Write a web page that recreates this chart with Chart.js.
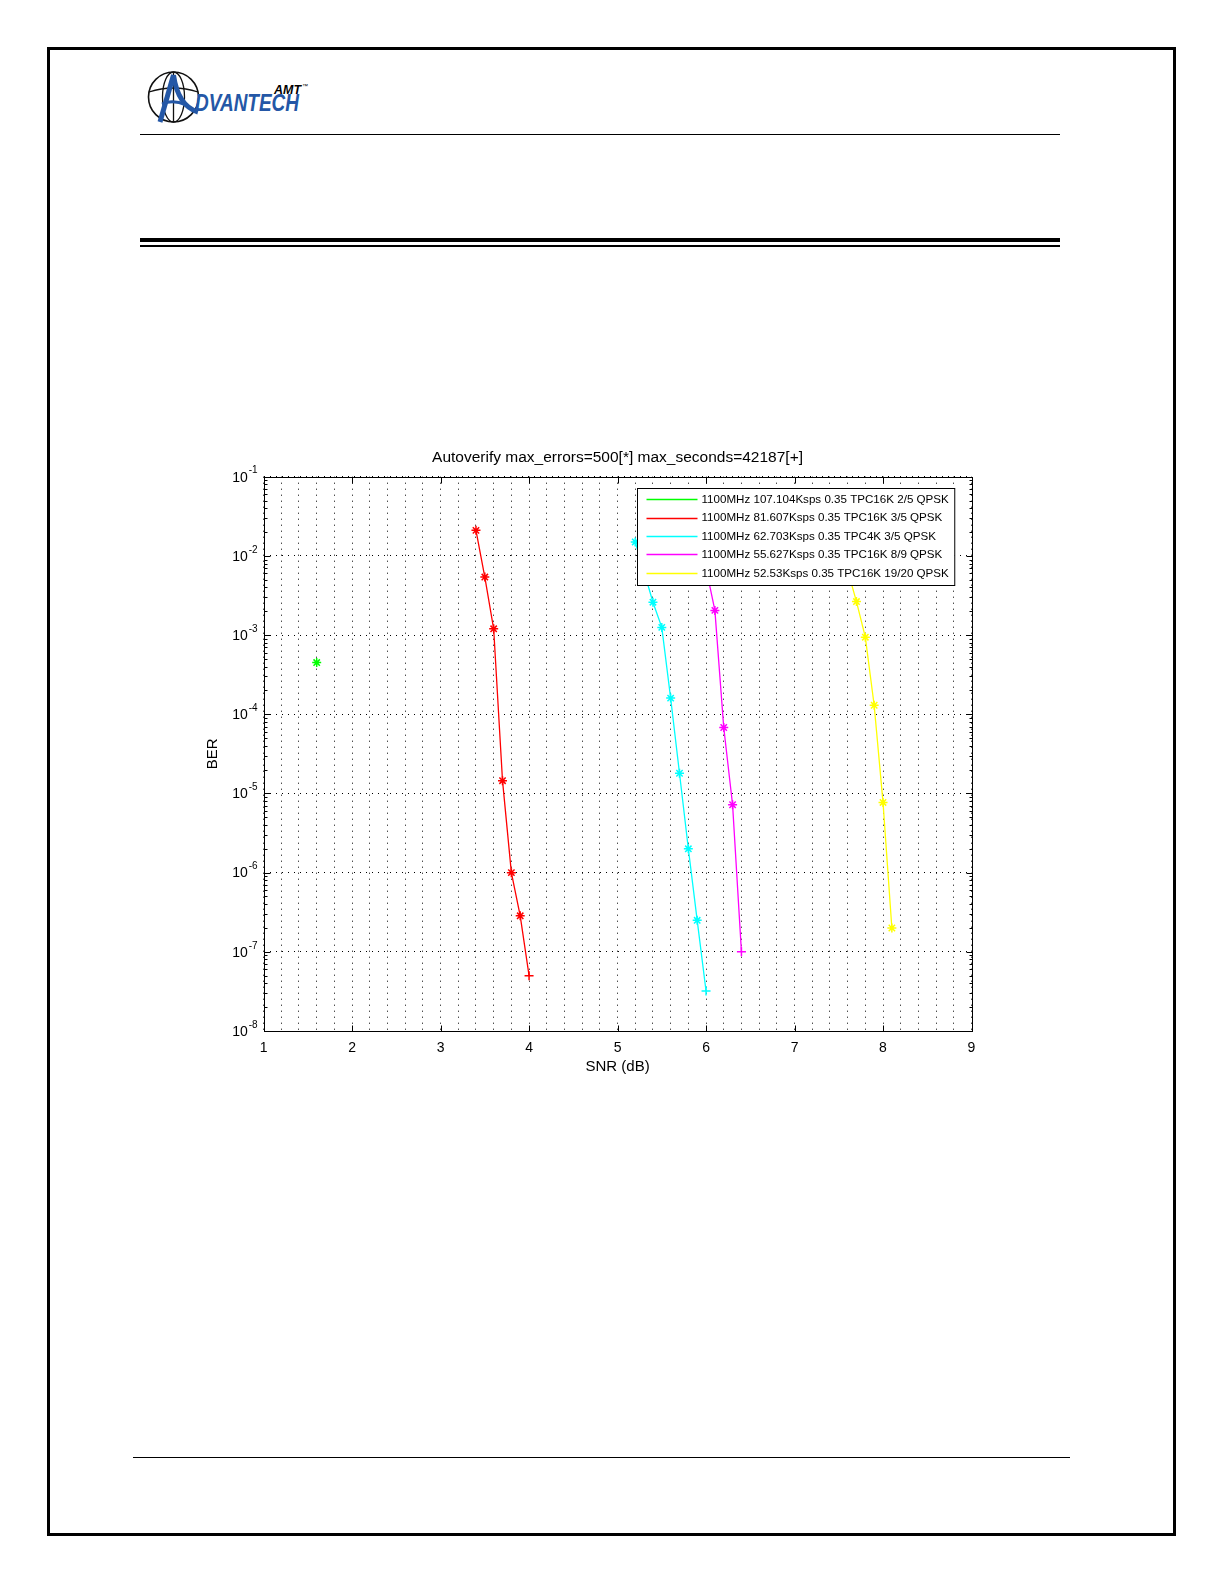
<!DOCTYPE html>
<html>
<head>
<meta charset="utf-8">
<script src="https://cdn.jsdelivr.net/npm/chart.js@4.4.1/dist/chart.umd.min.js"></script>
<style>
  body { margin: 0; background: #fff; }
  #page { position: relative; width: 1224px; height: 1584px; overflow: hidden; font-family: "Liberation Sans", Arial, sans-serif; }
  .frame { position: absolute; left: 47px; top: 47px; width: 1123px; height: 1483px; border: 3px solid #000; }
  .rule { position: absolute; background: #000; }
  #logo { position: absolute; left: 140px; top: 64px; }
  #chartBox { position: absolute; left: 190px; top: 430px; }
</style>
</head>
<body>
<div id="page">
  <div class="frame"></div>
  <svg id="logo" width="180" height="70" viewBox="0 0 180 70">
    <circle cx="33.5" cy="33" r="25" fill="none" stroke="#111" stroke-width="1.6"/>
    <ellipse cx="33.5" cy="33" rx="11" ry="25" fill="none" stroke="#111" stroke-width="1.3"/>
    <path d="M9 28 Q33.5 20 58 28" fill="none" stroke="#111" stroke-width="1.3"/>
    <path d="M33.5 8 L33.5 58" fill="none" stroke="#111" stroke-width="1.3"/>
    <path d="M33.5 11 L20 58" fill="none" stroke="#2457a6" stroke-width="5"/>
    <path d="M33.5 11 Q38 42 58 48" fill="none" stroke="#2457a6" stroke-width="5"/>
    <path d="M22 40 Q33 35 46 41" fill="none" stroke="#2457a6" stroke-width="3"/>
    <text x="55" y="47" font-family="Liberation Sans, Arial" font-weight="bold" font-style="italic" font-size="23" fill="#2457a6" textLength="104" lengthAdjust="spacingAndGlyphs">DVANTECH</text>
    <text x="134" y="30" font-family="Liberation Sans, Arial" font-weight="bold" font-style="italic" font-size="12" fill="#000" textLength="27" lengthAdjust="spacingAndGlyphs">AMT</text>
    <text x="162" y="24" font-family="Liberation Sans, Arial" font-size="6" fill="#000">™</text>
  </svg>
  <div class="rule" style="left:140px; top:134px; width:920px; height:1px;"></div>
  <div class="rule" style="left:140px; top:238px; width:920px; height:4px;"></div>
  <div class="rule" style="left:140px; top:245px; width:920px; height:2px;"></div>
  <div class="rule" style="left:133px; top:1457px; width:937px; height:1px;"></div>
  <div id="chartBox"><canvas id="berChart" width="840" height="652"></canvas></div>
</div>
<script>
// data (SNR in dB, BER)
var titleText = 'Autoverify max_errors=500[*] max_seconds=42187[+]';
var xTickLabels = [1, 2, 3, 4, 5, 6, 7, 8, 9];
var yDecades = [1e-8, 1e-7, 1e-6, 1e-5, 1e-4, 1e-3, 1e-2, 1e-1];
var yExponents = ['-8', '-7', '-6', '-5', '-4', '-3', '-2', '-1'];

var legendLabels = [
  '1100MHz 107.104Ksps 0.35 TPC16K 2/5 QPSK',
  '1100MHz 81.607Ksps 0.35 TPC16K 3/5 QPSK',
  '1100MHz 62.703Ksps 0.35 TPC4K 3/5 QPSK',
  '1100MHz 55.627Ksps 0.35 TPC16K 8/9 QPSK',
  '1100MHz 52.53Ksps 0.35 TPC16K 19/20 QPSK'
];
var seriesColors = ['#00ff00', '#ff0000', '#00ffff', '#ff00ff', '#ffff00'];

var snrGreen = [1.6];
var berGreen = [4.5e-4];
var mkGreen = ['star'];

var snrRed = [3.4, 3.5, 3.6, 3.7, 3.8, 3.9, 4.0];
var berRed = [2.1e-2, 5.4e-3, 1.2e-3, 1.45e-5, 1.0e-6, 2.85e-7, 5.0e-8];
var mkRed = ['star', 'star', 'star', 'star', 'star', 'star', 'cross'];

var snrCyan = [5.2, 5.3, 5.4, 5.5, 5.6, 5.7, 5.8, 5.9, 6.0];
var berCyan = [1.5e-2, 6.3e-3, 2.6e-3, 1.25e-3, 1.6e-4, 1.8e-5, 2.0e-6, 2.5e-7, 3.2e-8];
var mkCyan = ['star', 'star', 'star', 'star', 'star', 'star', 'star', 'star', 'cross'];

var snrMagenta = [6.0, 6.1, 6.2, 6.3, 6.4];
var berMagenta = [7.0e-3, 2.05e-3, 6.8e-5, 7.2e-6, 1.0e-7];
var mkMagenta = ['star', 'star', 'star', 'star', 'cross'];

var snrYellow = [7.6, 7.7, 7.8, 7.9, 8.0, 8.1];
var berYellow = [6.6e-3, 2.65e-3, 9.4e-4, 1.3e-4, 7.7e-6, 2.0e-7];
var mkYellow = ['star', 'star', 'star', 'star', 'star', 'star'];

var FONT = '"Liberation Sans", Arial, sans-serif';

function series(i, xs, ys, marks) {
  return {
    label: legendLabels[i],
    data: xs.map(function(x, k) { return { x: x, y: ys[k] }; }),
    borderColor: seriesColors[i],
    backgroundColor: seriesColors[i],
    borderWidth: 1.3,
    pointStyle: marks,
    pointRadius: 4.5,
    pointHoverRadius: 4.5,
    pointBorderWidth: 1.5,
    tension: 0
  };
}

// box, tick marks, y labels with exponents, title and the in-plot legend
var matlabAxes = {
  id: 'matlabAxes',
  afterDraw: function(chart) {
    var ctx = chart.ctx, a = chart.chartArea;
    var xs = chart.scales.x, ys = chart.scales.y;
    ctx.save();
    ctx.strokeStyle = '#000';
    ctx.lineWidth = 1;
    function seg(x1, y1, x2, y2) { ctx.beginPath(); ctx.moveTo(x1, y1); ctx.lineTo(x2, y2); ctx.stroke(); }

    var L = Math.round(a.left) + 0.5, R = Math.round(a.right) + 0.5;
    var T = Math.round(a.top) + 0.5, B = Math.round(a.bottom) + 0.5;
    ctx.strokeRect(L, T, R - L, B - T);

    xTickLabels.forEach(function(v) {
      var px = Math.round(xs.getPixelForValue(v)) + 0.5;
      seg(px, B, px, B - 6);
      seg(px, T, px, T + 6);
    });
    yDecades.forEach(function(d) {
      var py = Math.round(ys.getPixelForValue(d)) + 0.5;
      seg(L, py, L + 6, py);
      seg(R, py, R - 6, py);
      if (d < 1e-1) {
        for (var k = 2; k <= 9; k++) {
          var my = Math.round(ys.getPixelForValue(d * k)) + 0.5;
          seg(L, my, L + 3, my);
          seg(R, my, R - 3, my);
        }
      }
    });

    // y tick labels: 10 with superscript exponent
    ctx.fillStyle = '#000';
    ctx.textBaseline = 'middle';
    yDecades.forEach(function(d, i) {
      var py = ys.getPixelForValue(d);
      var right = a.left - 6;
      ctx.font = '10px ' + FONT;
      ctx.textAlign = 'right';
      var ew = ctx.measureText(yExponents[i]).width;
      ctx.fillText(yExponents[i], right, py - 6);
      ctx.font = '14px ' + FONT;
      ctx.fillText('10', right - ew - 1, py + 1);
    });

    // title
    ctx.font = '15.5px ' + FONT;
    ctx.textAlign = 'center';
    ctx.fillText(titleText, (a.left + a.right) / 2, a.top - 19);

    // legend box inside the plot, top right
    ctx.font = '11.6px ' + FONT;
    var maxW = 0;
    chart.data.datasets.forEach(function(ds) { maxW = Math.max(maxW, ctx.measureText(ds.label).width); });
    var boxW = 64 + maxW + 6, boxH = 97;
    var bx = Math.round(a.right - 17.5 - boxW) + 0.5, by = Math.round(a.top + 11.6) + 0.5;
    ctx.fillStyle = '#fff';
    ctx.fillRect(bx, by, boxW, boxH);
    ctx.strokeStyle = '#000';
    ctx.strokeRect(bx, by, boxW, boxH);
    chart.data.datasets.forEach(function(ds, i) {
      var ry = by + 10.7 + i * 18.4;
      ctx.strokeStyle = ds.borderColor;
      ctx.lineWidth = 1.3;
      seg(bx + 9, Math.round(ry) + 0.5, bx + 60, Math.round(ry) + 0.5);
      ctx.fillStyle = '#000';
      ctx.textAlign = 'left';
      ctx.fillText(ds.label, bx + 64, ry + 0.5);
    });
    ctx.restore();
  }
};

new Chart(document.getElementById('berChart').getContext('2d'), {
  type: 'line',
  data: {
    datasets: [
      series(0, snrGreen, berGreen, mkGreen),
      series(1, snrRed, berRed, mkRed),
      series(2, snrCyan, berCyan, mkCyan),
      series(3, snrMagenta, berMagenta, mkMagenta),
      series(4, snrYellow, berYellow, mkYellow)
    ]
  },
  options: {
    responsive: false,
    animation: false,
    layout: { padding: { left: 13.6, top: 46.7, right: 58.5, bottom: 6 } },
    plugins: { legend: { display: false }, title: { display: false }, tooltip: { enabled: false } },
    scales: {
      x: {
        type: 'linear',
        min: 1,
        max: 9,
        ticks: {
          stepSize: 0.2,
          autoSkip: false,
          maxRotation: 0,
          minRotation: 0,
          padding: 9,
          color: '#000',
          font: { family: FONT, size: 14 },
          callback: function(v) {
            var r = Math.round(v * 10) / 10;
            return xTickLabels.indexOf(r) >= 0 ? String(r) : '';
          }
        },
        grid: { color: '#000', lineWidth: 1, drawTicks: false },
        border: { display: false, dash: [1, 5] },
        title: { display: true, text: 'SNR (dB)', color: '#000', font: { family: FONT, size: 15 }, padding: 0 },
        afterFit: function(s) { s.height = 45; }
      },
      y: {
        type: 'logarithmic',
        min: 1e-8,
        max: 1e-1,
        afterBuildTicks: function(s) { s.ticks = yDecades.map(function(v) { return { value: v }; }); },
        ticks: { display: false },
        grid: { color: '#000', lineWidth: 1, drawTicks: false },
        border: { display: false, dash: [1, 5] },
        title: { display: true, text: 'BER', color: '#000', font: { family: FONT, size: 15 }, padding: 0 },
        afterFit: function(s) { s.width = 60; }
      }
    }
  },
  plugins: [matlabAxes]
});
</script>
</body>
</html>
